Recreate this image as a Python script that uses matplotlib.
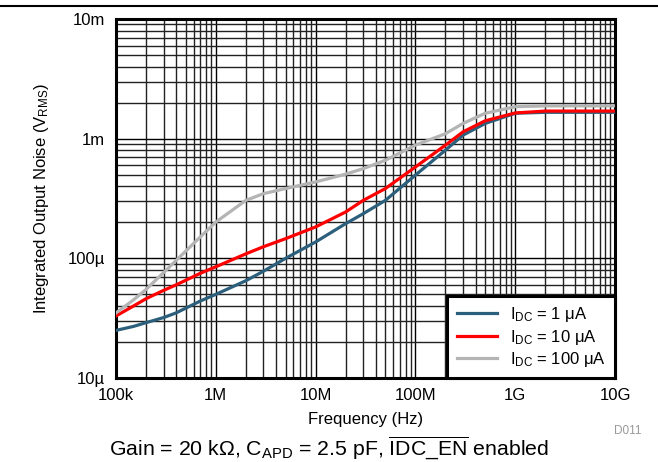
import matplotlib
matplotlib.use('Agg')
import matplotlib.pyplot as plt
from matplotlib.ticker import LogLocator, NullFormatter, FixedLocator, FixedFormatter

plt.rcParams['font.family'] = ['Liberation Sans', 'DejaVu Sans']
plt.rcParams['mathtext.fontset'] = 'custom'
plt.rcParams['mathtext.rm'] = 'Liberation Sans'
plt.rcParams['mathtext.it'] = 'Liberation Sans:italic'

# frequency points (Hz)
freq = [1e5, 1.5e5, 2e5, 3e5, 4e5, 7e5, 1e6, 2e6, 3e6, 5e6, 1e7, 2e7, 3e7, 5e7,
        1e8, 2e8, 3e8, 5e8, 1e9, 2e9, 1e10]

# integrated output noise in uV RMS
noise_1uA = [25, 27, 29, 32, 35, 44, 50, 65, 78, 100, 137, 195, 236, 305,
             496, 802, 1070, 1340, 1630, 1660, 1660]
noise_10uA = [33, 40, 46, 54, 60, 75, 85, 109, 125, 146, 183, 244, 305, 383,
              580, 883, 1140, 1410, 1640, 1700, 1700]
noise_100uA = [35, 45, 55, 76, 96, 151, 201, 305, 347, 383, 435, 505, 562, 660,
               883, 1100, 1340, 1630, 1850, 1880, 1880]

labels = [r'I$_{\mathrm{DC}}$ = 1 $\mathrm{\mu}$A',
          r'I$_{\mathrm{DC}}$ = 10 $\mathrm{\mu}$A',
          r'I$_{\mathrm{DC}}$ = 100 $\mathrm{\mu}$A']
colors = ['#2c5f7c', '#ff0000', '#b4b4b4']

x_ticks = [1e5, 1e6, 1e7, 1e8, 1e9, 1e10]
x_ticklabels = ['100k', '1M', '10M', '100M', '1G', '10G']
y_ticks = [1e-5, 1e-4, 1e-3, 1e-2]
y_ticklabels = ['10µ', '100µ', '1m', '10m']

fig = plt.figure(figsize=(6.58, 4.62), dpi=100)
ax = fig.add_axes([0.1763, 0.1818, 0.7584, 0.7771])

for vals, lab, col in zip([noise_1uA, noise_10uA, noise_100uA], labels, colors):
    ax.plot(freq, [v * 1e-6 for v in vals], color=col, linewidth=2.3, label=lab, zorder=3)

ax.set_xscale('log')
ax.set_yscale('log')
ax.set_xlim(1e5, 1e10)
ax.set_ylim(1e-5, 1e-2)

ax.xaxis.set_major_locator(FixedLocator(x_ticks))
ax.xaxis.set_major_formatter(FixedFormatter(x_ticklabels))
ax.yaxis.set_major_locator(FixedLocator(y_ticks))
ax.yaxis.set_major_formatter(FixedFormatter(y_ticklabels))
ax.xaxis.set_minor_locator(LogLocator(base=10, subs=range(2, 10), numticks=20))
ax.yaxis.set_minor_locator(LogLocator(base=10, subs=range(2, 10), numticks=20))
ax.xaxis.set_minor_formatter(NullFormatter())
ax.yaxis.set_minor_formatter(NullFormatter())

ax.grid(which='major', color='black', linewidth=1.0)
ax.grid(which='minor', color='#222222', linewidth=1.0)
ax.tick_params(which='both', length=0, labelsize=12, colors='black')
ax.tick_params(axis='x', pad=7)
ax.tick_params(axis='y', pad=8)

for s in ax.spines.values():
    s.set_linewidth(2.2)

ax.set_xlabel('Frequency (Hz)', fontsize=12, labelpad=7)
ax.set_ylabel(r'Integrated Output Noise (V$_{\mathrm{RMS}}$)', fontsize=12, labelpad=12)

leg = ax.legend(loc='lower right', borderaxespad=0, fontsize=12, handlelength=2.4,
                fancybox=False, framealpha=1, labelspacing=0.2, borderpad=0.55,
                handletextpad=0.8)
leg.get_frame().set_edgecolor('black')
leg.get_frame().set_linewidth(2.2)
leg.set_zorder(5)

fig.text(0.5, 0.032, r'Gain = 20 k$\Omega$, C$_{\mathrm{APD}}$ = 2.5 pF, $\overline{\mathrm{IDC\_EN}}$ enabled',
         fontsize=15.3, ha='center', va='center')
fig.text(0.975, 0.068, 'D011', fontsize=8.5, color='#999999', ha='right', va='center')
fig.add_artist(plt.Line2D([0, 1], [0.988, 0.988], color='black', linewidth=1.5))

plt.savefig('out.png', dpi=100)
